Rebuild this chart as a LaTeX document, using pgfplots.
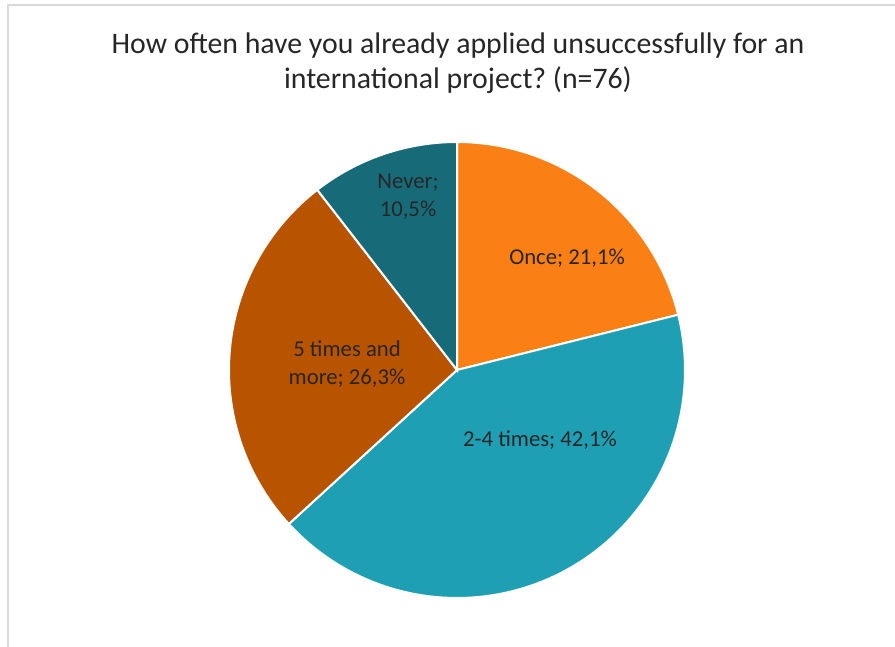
\documentclass[border=0pt]{standalone}
\usepackage{pgfplots}
\usepackage{pgfplotstable}
\pgfplotsset{compat=1.18}
\usepackage{fontspec}
\setmainfont{Carlito}

\definecolor{cOnce}{RGB}{250,127,20}
\definecolor{cTwo}{RGB}{31,159,180}
\definecolor{cFive}{RGB}{184,83,0}
\definecolor{cNever}{RGB}{23,107,120}
\definecolor{frame}{RGB}{217,217,217}

% share of answers, clockwise from 12 o'clock
\pgfplotstableread[col sep=comma]{
label,value
Once,21.1
2-4 times,42.1
5 times and more,26.3
Never,10.5
}\piedata

\begin{document}
\frenchspacing
\begin{tikzpicture}
\pgfplotstablegetelem{0}{value}\of\piedata \let\vA\pgfplotsretval
\pgfplotstablegetelem{1}{value}\of\piedata \let\vB\pgfplotsretval
\pgfplotstablegetelem{2}{value}\of\piedata \let\vC\pgfplotsretval
\pgfplotstablegetelem{3}{value}\of\piedata \let\vD\pgfplotsretval
\pgfmathsetmacro\aA{90}
\pgfmathsetmacro\aB{\aA-3.6*\vA}
\pgfmathsetmacro\aC{\aB-3.6*\vB}
\pgfmathsetmacro\aD{\aC-3.6*\vC}
\pgfmathsetmacro\aE{\aD-3.6*\vD}
\def\cx{457}\def\cy{276}\def\R{228}

\useasboundingbox (0,0) rectangle (895pt,646pt);
\begin{axis}[
  at={(0,0)}, anchor=origin,
  x=1pt, y=1pt,
  xmin=0, xmax=895, ymin=0, ymax=646,
  hide axis, clip=false,
  scale only axis,
]
% frame (right and bottom edges fall outside the picture)
\draw[frame, line width=2pt] (axis cs:8,-10) -- (axis cs:8,641) -- (axis cs:905,641);

\addplot[fill=cOnce, draw=white, line width=2pt, domain=\aB:\aA, samples=60]
  ({\cx+\R*cos(x)},{\cy+\R*sin(x)}) -- (axis cs:\cx,\cy) -- cycle;
\addplot[fill=cTwo, draw=white, line width=2pt, domain=\aC:\aB, samples=90]
  ({\cx+\R*cos(x)},{\cy+\R*sin(x)}) -- (axis cs:\cx,\cy) -- cycle;
\addplot[fill=cFive, draw=white, line width=2pt, domain=\aD:\aC, samples=70]
  ({\cx+\R*cos(x)},{\cy+\R*sin(x)}) -- (axis cs:\cx,\cy) -- cycle;
\addplot[fill=cNever, draw=white, line width=2pt, domain=\aE:\aD, samples=40]
  ({\cx+\R*cos(x)},{\cy+\R*sin(x)}) -- (axis cs:\cx,\cy) -- cycle;

\node[font=\fontsize{29.8}{35}\selectfont, align=center, text=black!85]
  at (axis cs:458,583) {How often have you already applied unsuccessfully for an\\international project? (n=76)};

\node[font=\fontsize{22.7}{28}\selectfont, text=black!85] at (axis cs:567,388) {Once; 21,1\%};
\node[font=\fontsize{22.7}{28}\selectfont, text=black!85] at (axis cs:540,206) {2-4 times; 42,1\%};
\node[font=\fontsize{22.7}{28}\selectfont, text=black!85, align=center] at (axis cs:347,282) {5 times and\\more; 26,3\%};
\node[font=\fontsize{22.7}{28}\selectfont, text=black!85, align=center] at (axis cs:408,449) {Never;\\10,5\%};
\end{axis}
\end{tikzpicture}
\end{document}
